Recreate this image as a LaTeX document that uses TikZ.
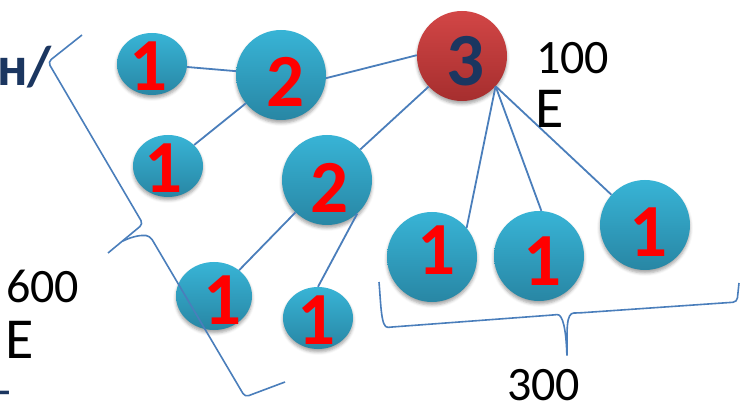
\documentclass[tikz,border=0pt]{standalone}
\usepackage{fontspec}
\setmainfont{Carlito}
\usetikzlibrary{shapes.geometric,shadows.blur}
\definecolor{lineblue}{RGB}{74,126,187}
\definecolor{cyantop}{RGB}{56,180,214}
\definecolor{cyanbot}{RGB}{40,134,164}
\definecolor{redtop}{RGB}{210,70,70}
\definecolor{redbot}{RGB}{166,46,46}
\definecolor{navy}{RGB}{27,54,96}
\definecolor{numred}{RGB}{255,0,0}
\tikzset{
  ball/.style={circle, inner sep=0pt, minimum size=90pt, top color=cyantop, bottom color=cyanbot, draw=none,
    blur shadow={shadow xshift=0pt, shadow yshift=-3pt, shadow blur radius=3pt, shadow opacity=35}},
  smallball/.style={ellipse, inner sep=0pt, minimum width=70pt, minimum height=62pt, top color=cyantop, bottom color=cyanbot, draw=none,
    blur shadow={shadow xshift=0pt, shadow yshift=-3pt, shadow blur radius=3pt, shadow opacity=35}},
  redball/.style={ball, top color=redtop, bottom color=redbot},
  num/.style={inner sep=0pt, font=\fontsize{75}{75}\selectfont\bfseries, text=numred},
  edge/.style={draw=lineblue, line width=1.8pt},
  bracestyle/.style={draw=lineblue, line width=1.6pt, rounded corners=4pt},
  txt/.style={inner sep=0pt, anchor=base west, font=\fontsize{48}{48}\selectfont, text=black},
  bigtxt/.style={txt, font=\fontsize{58}{58}\selectfont}
}
\begin{document}
\begin{tikzpicture}[x=1pt,y=-1pt]
\useasboundingbox (0,0) rectangle (740,401);
% circles
\node[smallball] (A) at (152,64) {};
\node[ball] (B) at (281,75) {};
\node[smallball] (C) at (168,166) {};
\node[redball] (D) at (462,56) {};
\node[ball] (E) at (327,180) {};
\node[smallball, minimum width=76pt, minimum height=68pt] (F) at (214,296) {};
\node[smallball] (G) at (318,318) {};
\node[ball] (H) at (432,257) {};
\node[ball] (I) at (539,256) {};
\node[ball] (J) at (645,225) {};
% connectors
\draw[edge] (A) -- (B);
\draw[edge] (C) -- (B);
\draw[edge] (B.-4) -- (D.179);
\draw[edge] (E) -- (D);
\draw[edge] (E) -- (F);
\draw[edge] (E.-48) -- (G.90);
\draw[edge] (D.-42) -- (H.40);
\draw[edge] (D.-42) -- (I.87);
\draw[edge] (D.-42) -- (J.138);
% numbers
\node[num] (nA) at (149,66) {1};
\node[num] (nB) at (286,82) {2};
\node[num] (nC) at (164,168) {1};
\node[num, text=navy] (nD) at (466,61) {3};
\node[num] (nE) at (330,188) {2};
\node[num] (nF) at (223,300) {1};
\node[num] (nG) at (317,320) {1};
\node[num] (nH) at (437,250) {1};
\node[num] (nI) at (543,261) {1};
\node[num] (nJ) at (649,232) {1};
% braces
\draw[bracestyle] (82,35) -- (48,62) -- (143,224) -- (108,253);
\draw[bracestyle] (123,241) .. controls (133,236) and (142,235) .. (150,236) -- (245,397) -- (285,382);
\draw[bracestyle] (379,282) .. controls (381,305) and (381,328) .. (392,327) -- (553,315)
  .. controls (563,314) and (566,330) .. (567,358) .. controls (567,330) and (566,313) .. (578,313)
  -- (737,302) -- (739,283);
% texts
\node[txt] (t100) at (536,74) {100};
\node[bigtxt] (tE1) at (535,128) {E};
\node[txt] (t600) at (6,302) {600};
\node[bigtxt] (tE2) at (5,358) {E};
\node[txt] (t300) at (507,400) {300};
\node[txt, text=navy, font=\fontsize{56}{56}\selectfont\bfseries] (tH) at (-3,86) {н/};
\node[txt, text=navy, font=\fontsize{48}{48}\selectfont] (tdash) at (-4,406) {-};
\end{tikzpicture}
\end{document}
